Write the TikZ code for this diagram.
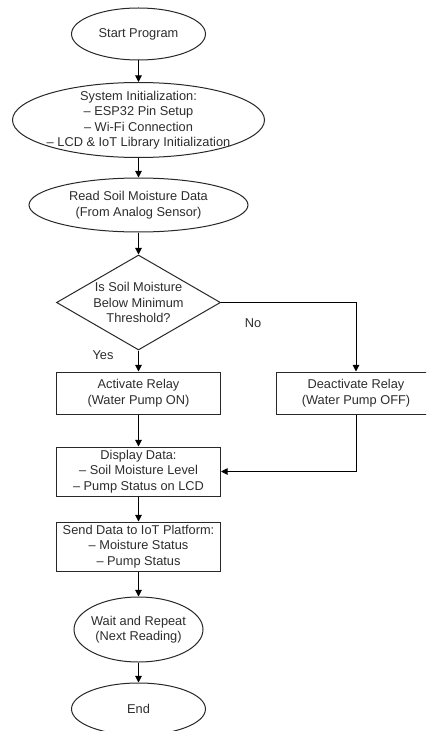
\documentclass[tikz,border=0pt]{standalone}
\usepackage{fontspec}
\setmainfont{Liberation Sans}
\usepackage{xcolor}
\definecolor{ColLine}{RGB}{40,40,40}
\definecolor{ColText}{RGB}{45,45,45}
\usepackage{tikz}
\usetikzlibrary{shapes}
\usetikzlibrary{arrows.meta}
\tikzstyle{Term}=[ellipse,draw=ColLine,line width=0.75pt,inner sep=0pt]
\tikzstyle{Box}=[rectangle,draw=ColLine,line width=0.75pt,inner sep=0pt,
align=center,text=ColText,minimum width=123pt]
\tikzstyle{Choice}=[diamond,draw=ColLine,line width=0.75pt,inner sep=0pt,
minimum width=123pt,minimum height=71.25pt]
\tikzstyle{Txt}=[align=center,text=ColText,inner sep=0pt,
font=\fontsize{9.6}{11.6}\selectfont]
\tikzstyle{Edge}=[draw=black,line width=0.75pt,
-{Triangle[length=5pt,width=5pt]}]

\begin{document}
\begin{tikzpicture}[x=0.75pt,y=-0.75pt,
    every node/.append style={font=\fontsize{9.6}{11.6}\selectfont}]
        \path[use as bounding box,fill=white](0,0)rectangle(426,731);
        \clip(0,0)rectangle(426,731);
        % terminals and steps
        \node[Term,minimum width=100.5pt,minimum height=39pt](1)at(138.5,34){};
        \node[Txt](1t)at(1){Start Program};
        \node[Term,minimum width=189pt,minimum height=56.25pt](2)at(138.5,120){};
        \node[Txt](2t)at(2){System Initialization:\\
            -- ESP32 Pin Setup\\ -- Wi-Fi Connection\\
            -- LCD \& IoT Library Initialization};
        \node[Term,minimum width=164.25pt,minimum height=40.5pt](3)at(138.5,205){};
        \node[Txt](3t)at(3){Read Soil Moisture Data\\(From Analog Sensor)};
        \node[Choice](4)at(138.5,302.5){};
        \node[Txt](4t)at(4){Is Soil Moisture\\Below Minimum\\Threshold?};
        \node[Box,minimum height=31.5pt](5)at(138.5,393)
            {Activate Relay\\(Water Pump ON)};
        \node[Box,minimum width=120pt,minimum height=31.5pt](6)at(356,393)
            {Deactivate Relay\\(Water Pump OFF)};
        \node[Box,minimum height=36.75pt](7)at(138.5,471.5)
            {Display Data:\\ -- Soil Moisture Level\\ -- Pump Status on LCD};
        \node[Box,minimum height=36.75pt](8)at(138.5,546.5)
            {Send Data to IoT Platform:\\ -- Moisture Status\\ -- Pump Status};
        \node[Term,minimum width=96.75pt,minimum height=48.75pt](9)at(138.5,629.5){};
        \node[Txt](9t)at(9){Wait and Repeat\\(Next Reading)};
        \node[Term,minimum width=100.5pt,minimum height=39pt](10)at(138.5,709){};
        \node[Txt](10t)at(10){End};
        % branch labels
        \node[Txt](y)at(103,355){Yes};
        \node[Txt](n)at(253,323){No};
        % connectors
        \draw[Edge](1)--(2);
        \draw[Edge](2)--(3);
        \draw[Edge](3)--(4);
        \draw[Edge](4.south)--(5.north);
        \draw[Edge](4.east)-|(6.north);
        \draw[Edge](5.south)--(7.north);
        \draw[Edge](6.south)|-(7.east);
        \draw[Edge](7.south)--(8.north);
        \draw[Edge](8.south)--(9.north);
        \draw[Edge](9)--(10);
    \end{tikzpicture}
\end{document}
